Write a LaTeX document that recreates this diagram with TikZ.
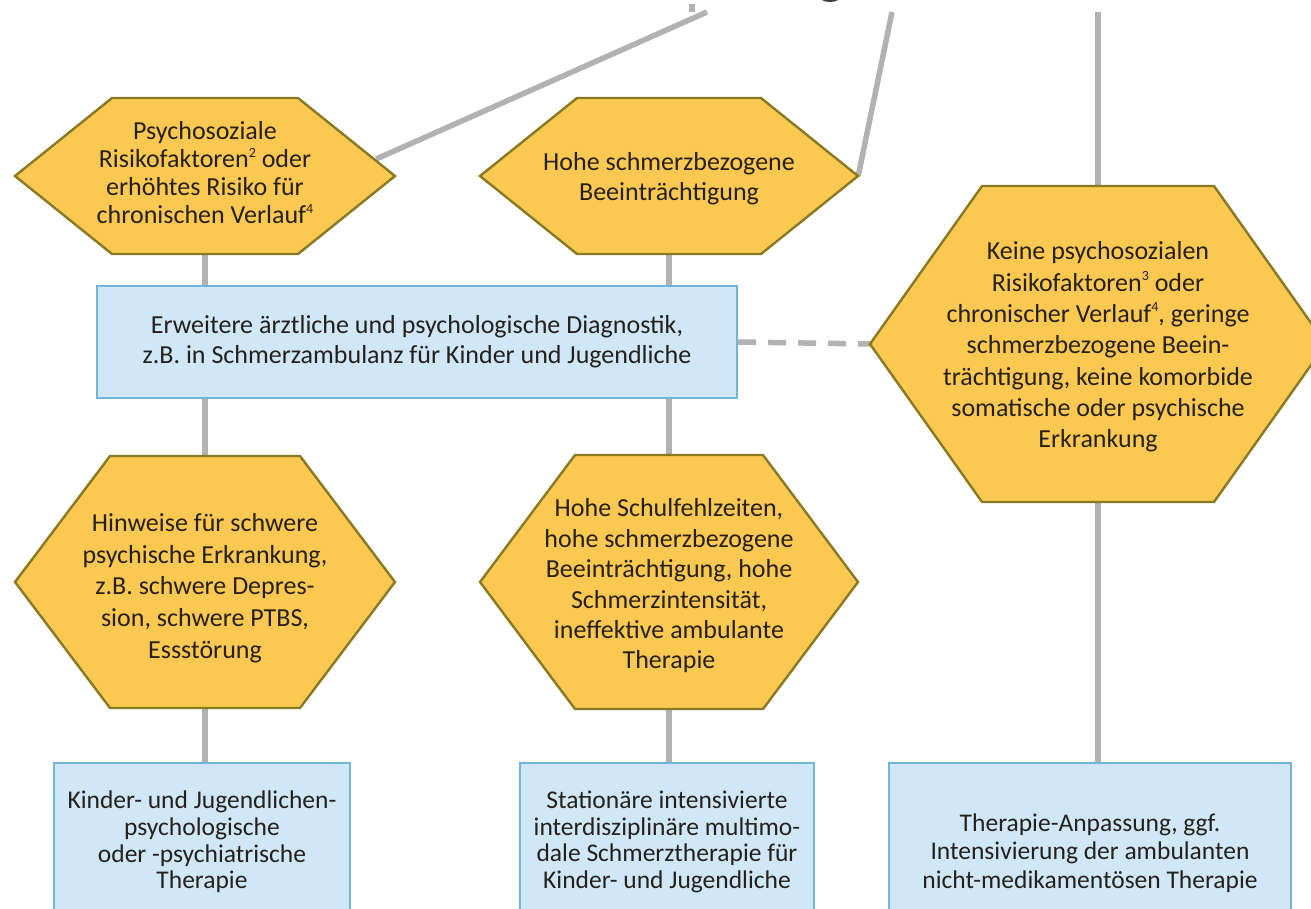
\documentclass[tikz,border=0pt]{standalone}
\usepackage{fontspec}
\setmainfont{Carlito}
\usetikzlibrary{calc,backgrounds}

\definecolor{hexfill}{RGB}{251,201,82}
\definecolor{hexedge}{RGB}{135,122,32}
\definecolor{boxfill}{RGB}{207,231,246}
\definecolor{boxedge}{RGB}{112,182,216}
\definecolor{linkgray}{RGB}{178,178,178}
\definecolor{ink}{RGB}{38,32,26}
\definecolor{headgray}{RGB}{62,62,62}

% small footnote marks
\newcommand\fnmark[1]{\raisebox{0.42em}{\fontsize{14}{14}\selectfont #1}}

\tikzset{
  hexline/.style={draw=hexedge, fill=hexfill, line width=2.4pt, line join=miter},
  hexframe/.style={rectangle, inner sep=0pt},
  hexlabel/.style={rectangle, inner sep=0pt, align=center, text=ink},
  infobox/.style={rectangle, draw=boxedge, fill=boxfill, line width=2.4pt,
    inner sep=0pt, align=center, text=ink},
  link/.style={draw=linkgray, line width=5.5pt},
  dashlink/.style={draw=linkgray, line width=5.5pt, dash pattern=on 18pt off 12pt},
}

% hexagon: name, centre x, centre y, half width, inset of the top/bottom edge,
% half height, line spacing, vertical offset of the text, text
\newcommand\hexagonnode[9]{%
  \path[hexline] ({#2-#4},#3) -- ({#2-#4+#5},{#3-#6}) -- ({#2+#4-#5},{#3-#6})
    -- ({#2+#4},#3) -- ({#2+#4-#5},{#3+#6}) -- ({#2-#4+#5},{#3+#6}) -- cycle;
  \node[hexframe, minimum width={2*#4}, minimum height={2*#6}] (#1) at (#2,#3) {};
  \node[hexlabel, font=\fontsize{26}{#7}\selectfont] (#1-text) at (#2,{#3+#8}) {#9};
}

\begin{document}
\begin{tikzpicture}[x=1pt, y=-1pt]
  \useasboundingbox (0,0) rectangle (1311,908);

  % lower rim of the heading letter above the chart
  \begin{scope}
    \clip (780,0) rectangle (880,10);
    \fill[headgray] (830,-5) ellipse [x radius=12, y radius=7];
  \end{scope}

  % upper ends of the incoming lines
  \coordinate (stubtop) at (692,4);
  \coordinate (stubbot) at (692,12);
  \coordinate (lefttop) at (707,12);
  \coordinate (midtop)  at (892,12);
  \coordinate (righttop) at (1098,12);

  % hexagons
  \hexagonnode{hA}{205}{176}{190}{97}{78}{28}{-3}{Psychosoziale\\Risikofaktoren\fnmark{2} oder\\erhöhtes Risiko für\\chronischen Verlauf\fnmark{4}}
  \hexagonnode{hB}{669}{176}{189}{97}{78}{30}{3}{Hohe schmerzbezogene\\Beeinträchtigung}
  \hexagonnode{hE}{1098}{344}{228}{112}{158}{31.3}{3}{Keine psychosozialen\\Risikofaktoren\fnmark{3} oder\\chronischer Verlauf\fnmark{4}, geringe\\schmerzbezogene Beein-\\trächtigung, keine komorbide\\somatische oder psychische\\Erkrankung}
  \hexagonnode{hC}{205}{582}{190}{95}{126}{31.7}{6}{Hinweise für schwere\\psychische Erkrankung,\\z.B. schwere Depres-\\sion, schwere PTBS,\\Essstörung}
  \hexagonnode{hD}{669}{582}{189}{95}{127}{30.4}{4}{Hohe Schulfehlzeiten,\\hohe schmerzbezogene\\Beeinträchtigung, hohe\\Schmerzintensität,\\ineffektive ambulante\\Therapie}

  % diagnostics box
  \node[infobox, minimum width=640, minimum height=112, font=\fontsize{26}{30}\selectfont]
    (diag) at (417,342)
    {Erweitere ärztliche und psychologische Diagnostik,\\z.B. in Schmerzambulanz für Kinder und Jugendliche};

  % therapy boxes (running past the lower edge)
  \node[infobox, minimum width=296, minimum height=158, font=\fontsize{25.5}{26.7}\selectfont]
    (tA) at (202,842) {Kinder- und Jugendlichen-\\psychologische\\oder -psychiatrische\\Therapie};
  \node[infobox, minimum width=294, minimum height=158, font=\fontsize{25.5}{26.7}\selectfont]
    (tB) at (667,842) {Stationäre intensivierte\\interdisziplinäre multimo-\\dale Schmerztherapie für\\Kinder- und Jugendliche};
  \node[infobox, minimum width=402, minimum height=180, font=\fontsize{25.5}{28.5}\selectfont]
    (tC) at (1090,853) {Therapie-Anpassung, ggf.\\Intensivierung der ambulanten\\nicht-medikamentösen Therapie};

  % connectors, kept behind the shapes
  \begin{scope}[on background layer]
    \fill[white] (0,0) rectangle (1311,908);
    \draw[link] (stubtop) -- (stubbot);
    \draw[link] (lefttop) -- ($(hA.east)+(-19,-17)$);
    \draw[link] (midtop) -- (hB.east);
    \draw[link] (righttop) -- (hE.north);
    \draw[link] (hA.south) -- (hA.south |- diag.north);
    \draw[link] (hB.south) -- (hB.south |- diag.north);
    \draw[link] (hA.south |- diag.south) -- (hC.north);
    \draw[link] (hB.south |- diag.south) -- (hD.north);
    \draw[link] (hC.south) -- (hC.south |- tA.north);
    \draw[link] (hD.south) -- (hD.south |- tB.north);
    \draw[link] (hE.south) -- (hE.south |- tC.north);
    \draw[dashlink] (diag.east) -- (hE.west);
  \end{scope}
\end{tikzpicture}
\end{document}
